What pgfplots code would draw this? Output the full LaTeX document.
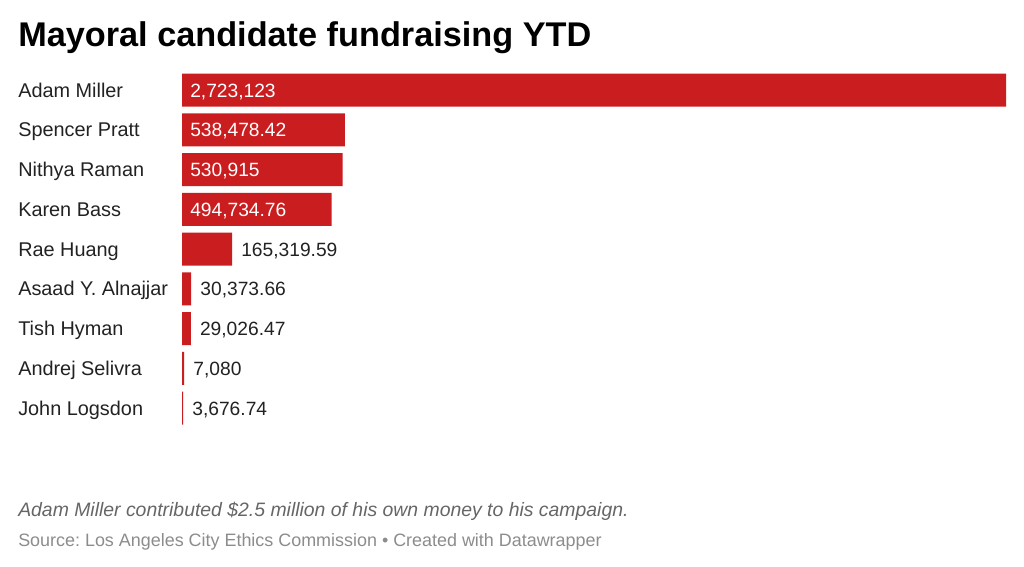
\documentclass[border=0pt]{standalone}
\usepackage{fontspec}
\setmainfont{Liberation Sans}
\usepackage{pgfplots}
\usepackage{pgfplotstable}
\pgfplotsset{compat=1.18}
\definecolor{barred}{RGB}{201,29,31}
\definecolor{txt}{RGB}{34,34,34}
\definecolor{note}{RGB}{102,102,102}
\definecolor{src}{RGB}{140,140,140}
\frenchspacing

\pgfplotstableread[col sep=semicolon]{
y;val
0;2723123
1;538478.42
2;530915
3;494734.76
4;165319.59
5;30373.66
6;29026.47
7;7080
8;3676.74
}\bars

\pgfplotstableread[col sep=semicolon]{
y;x;lab
0;0;2,723,123
1;0;538,478.42
2;0;530,915
3;0;494,734.76
}\inlabels

\pgfplotstableread[col sep=semicolon]{
y;x;lab
4;165319.59;165,319.59
5;30373.66;30,373.66
6;29026.47;29,026.47
7;7080;7,080
8;3676.74;3,676.74
}\outlabels

\begin{document}
\frenchspacing
\begin{tikzpicture}
\path[use as bounding box] (0,0) rectangle (768pt,-425.25pt);
\node[anchor=base west, inner sep=0pt, font=\fontsize{25.7}{30}\selectfont\bfseries] at (13.5pt,-35.25pt) {Mayoral candidate fundraising YTD};
\begin{axis}[
  at={(136.5pt,-52.6pt)}, anchor=north west,
  scale only axis, width=618pt, height=268.3pt,
  xmin=0, xmax=2723123, ymin=-0.5, ymax=8.5,
  y dir=reverse, clip=false,
  axis line style={draw=none},
  major tick length=0pt,
  xtick=\empty,
  ytick={0,...,8},
  yticklabels={Adam Miller,Spencer Pratt,Nithya Raman,Karen Bass,Rae Huang,Asaad Y. Alnajjar,Tish Hyman,Andrej Selivra,John Logsdon},
  yticklabel style={anchor=base west, inner sep=0pt, xshift=-123pt, yshift=-5.25pt, text=txt, font=\fontsize{14.9}{17}\selectfont},
]
\addplot[xbar, bar width=24.75pt, fill=barred, draw=none, bar shift=0pt] table[x=val,y=y]{\bars};
\addplot[only marks, mark=none, nodes near coords, point meta=explicit symbolic,
  nodes near coords style={anchor=base west, inner sep=0pt, xshift=6pt, yshift=-5.25pt, text=white, font=\fontsize{14.4}{17}\selectfont}]
  table[x=x,y=y,meta=lab]{\inlabels};
\addplot[only marks, mark=none, nodes near coords, point meta=explicit symbolic,
  nodes near coords style={anchor=base west, inner sep=0pt, xshift=6.75pt, yshift=-5.25pt, text=txt, font=\fontsize{14.4}{17}\selectfont}]
  table[x=x,y=y,meta=lab]{\outlabels};
\end{axis}
\node[anchor=base west, inner sep=0pt, text=note, font=\fontsize{14.55}{17}\selectfont\itshape] at (13.5pt,-387.5pt) {Adam Miller contributed \$2.5 million of his own money to his campaign.};
\node[anchor=base west, inner sep=0pt, text=src, font=\fontsize{13.45}{17}\selectfont] at (13.5pt,-409.5pt) {Source: Los Angeles City Ethics Commission • Created with Datawrapper};
\end{tikzpicture}
\end{document}
